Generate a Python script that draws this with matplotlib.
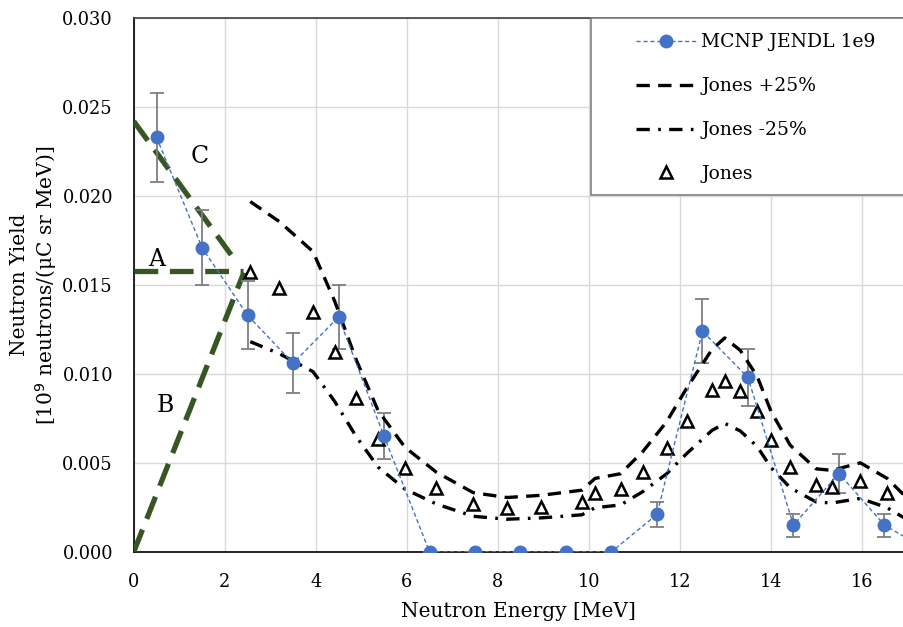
import numpy as np
import matplotlib
matplotlib.use("Agg")
import matplotlib.pyplot as plt
from matplotlib.patches import Rectangle

plt.rcParams['font.family'] = ['DejaVu Serif']

# MCNP JENDL 1e9 (bin centres, MeV)
mcnp_x = [0.5, 1.5, 2.5, 3.5, 4.5, 5.5, 6.5, 7.5, 8.5, 9.5, 10.5,
          11.5, 12.5, 13.5, 14.5, 15.5, 16.5, 17.5]
mcnp_y = [0.0233, 0.0171, 0.0133, 0.0106, 0.0132, 0.0065, 0.0, 0.0, 0.0, 0.0, 0.0,
          0.0021, 0.0124, 0.0098, 0.0015, 0.0044, 0.0015, 0.0]
mcnp_err = [0.0025, 0.0021, 0.0019, 0.0017, 0.0018, 0.0013, 0, 0, 0, 0, 0,
            0.0007, 0.0018, 0.0016, 0.00065, 0.0011, 0.00065, 0]

# Jones data
jones_x = [2.56, 3.2, 3.94, 4.42, 4.89, 5.37, 5.96, 6.65, 7.46, 8.2, 8.96, 9.85,
           10.14, 10.7, 11.19, 11.71, 12.15, 12.71, 12.99, 13.33, 13.7, 14.01,
           14.43, 15.0, 15.35, 15.97, 16.56, 17.3]
jones_y = [0.01575, 0.01485, 0.0135, 0.01125, 0.00863, 0.00635, 0.0047, 0.00358,
           0.00266, 0.00244, 0.00254, 0.00277, 0.0033, 0.00351, 0.00451, 0.00584,
           0.00735, 0.0091, 0.00962, 0.00906, 0.0079, 0.0063, 0.00479, 0.00373,
           0.00366, 0.004, 0.0033, 0.0018]
jones_hi = [v * 1.25 for v in jones_y]
jones_lo = [v * 0.75 for v in jones_y]

# reference lines A, B, C
line_a_x = [0.0, 2.4]
line_a_y = [0.0158, 0.0158]
line_b_x = [0.0, 2.42]
line_b_y = [0.0, 0.0157]
line_c_x = [0.0, 2.28]
line_c_y = [0.0242, 0.0162]

green = '#375623'
blue = '#4472C4'

fig = plt.figure(figsize=(9.04, 6.27), dpi=100)
ax = fig.add_axes([0.148, 0.12, 0.852, 0.851])

ax.plot(line_a_x, line_a_y, color=green, lw=3.8, dashes=(4.5, 2.2), zorder=3)
ax.plot(line_b_x, line_b_y, color=green, lw=3.8, dashes=(4.5, 2.2), zorder=3)
ax.plot(line_c_x, line_c_y, color=green, lw=3.8, dashes=(4.5, 2.2), zorder=3)

ax.errorbar(mcnp_x, mcnp_y, yerr=mcnp_err, fmt='none', ecolor='#7f7f7f',
            elinewidth=1.3, capsize=5, capthick=1.3, zorder=4)
ax.plot(mcnp_x, mcnp_y, color=blue, lw=1, dashes=(3, 2), marker='o',
        markersize=9, markerfacecolor=blue, markeredgecolor=blue,
        label='MCNP JENDL 1e9', zorder=6)
ax.plot(jones_x, jones_hi, color='black', lw=2.4, dashes=(4, 2.5),
        label='Jones +25%', zorder=5)
ax.plot(jones_x, jones_lo, color='black', lw=2.4, dashes=(4, 2.5, 0.8, 2.5),
        label='Jones -25%', zorder=5)
ax.plot(jones_x, jones_y, linestyle='none', marker='^', markersize=9,
        markerfacecolor='white', markeredgecolor='black', markeredgewidth=1.8,
        label='Jones', zorder=5)

ax.text(0.5, 0.0158, 'A', fontsize=17, ha='center', va='bottom', zorder=7)
ax.text(0.7, 0.0082, 'B', fontsize=17, ha='center', va='center', zorder=7)
ax.text(1.45, 0.0222, 'C', fontsize=17, ha='center', va='center', zorder=7)

ax.set_xlim(0, 16.93)
ax.set_ylim(0, 0.030)
ax.set_xticks(np.arange(0, 17, 2))
ax.set_yticks(np.arange(0, 0.0301, 0.005))
ax.yaxis.set_major_formatter(matplotlib.ticker.FormatStrFormatter('%.3f'))
ax.tick_params(axis='y', length=0, labelsize=12.8, pad=15)
ax.tick_params(axis='x', length=0, labelsize=12.8, pad=15)
ax.grid(True, color='#d9d9d9', lw=1)
ax.set_axisbelow(True)
for s in ['left', 'bottom', 'top']:
    ax.spines[s].set_color('black')
    ax.spines[s].set_linewidth(1.2)
ax.spines['top'].set_color('#404040')
ax.spines['right'].set_visible(False)

ax.set_xlabel('Neutron Energy [MeV]', fontsize=14.5, labelpad=8)
ax.set_ylabel('Neutron Yield\n[10$^9$ neutrons/(μC sr MeV)]', fontsize=14.5)
ax.yaxis.set_label_coords(-0.097, 0.5)

# legend box (extends past the right edge as in the source)
box = Rectangle((0.5935, 0.669), 0.5, 0.331, transform=ax.transAxes,
                facecolor='white', edgecolor='#7f7f7f', lw=1.2, zorder=8,
                clip_on=False)
ax.add_patch(box)
leg = ax.legend(loc='upper left', bbox_to_anchor=(0.6445, 0.982),
                borderaxespad=0, fontsize=13.5, frameon=False,
                handlelength=3.2, labelspacing=1.38, borderpad=0.3,
                handletextpad=0.3)
leg.set_zorder(9)

fig.savefig('out.png', dpi=100)
